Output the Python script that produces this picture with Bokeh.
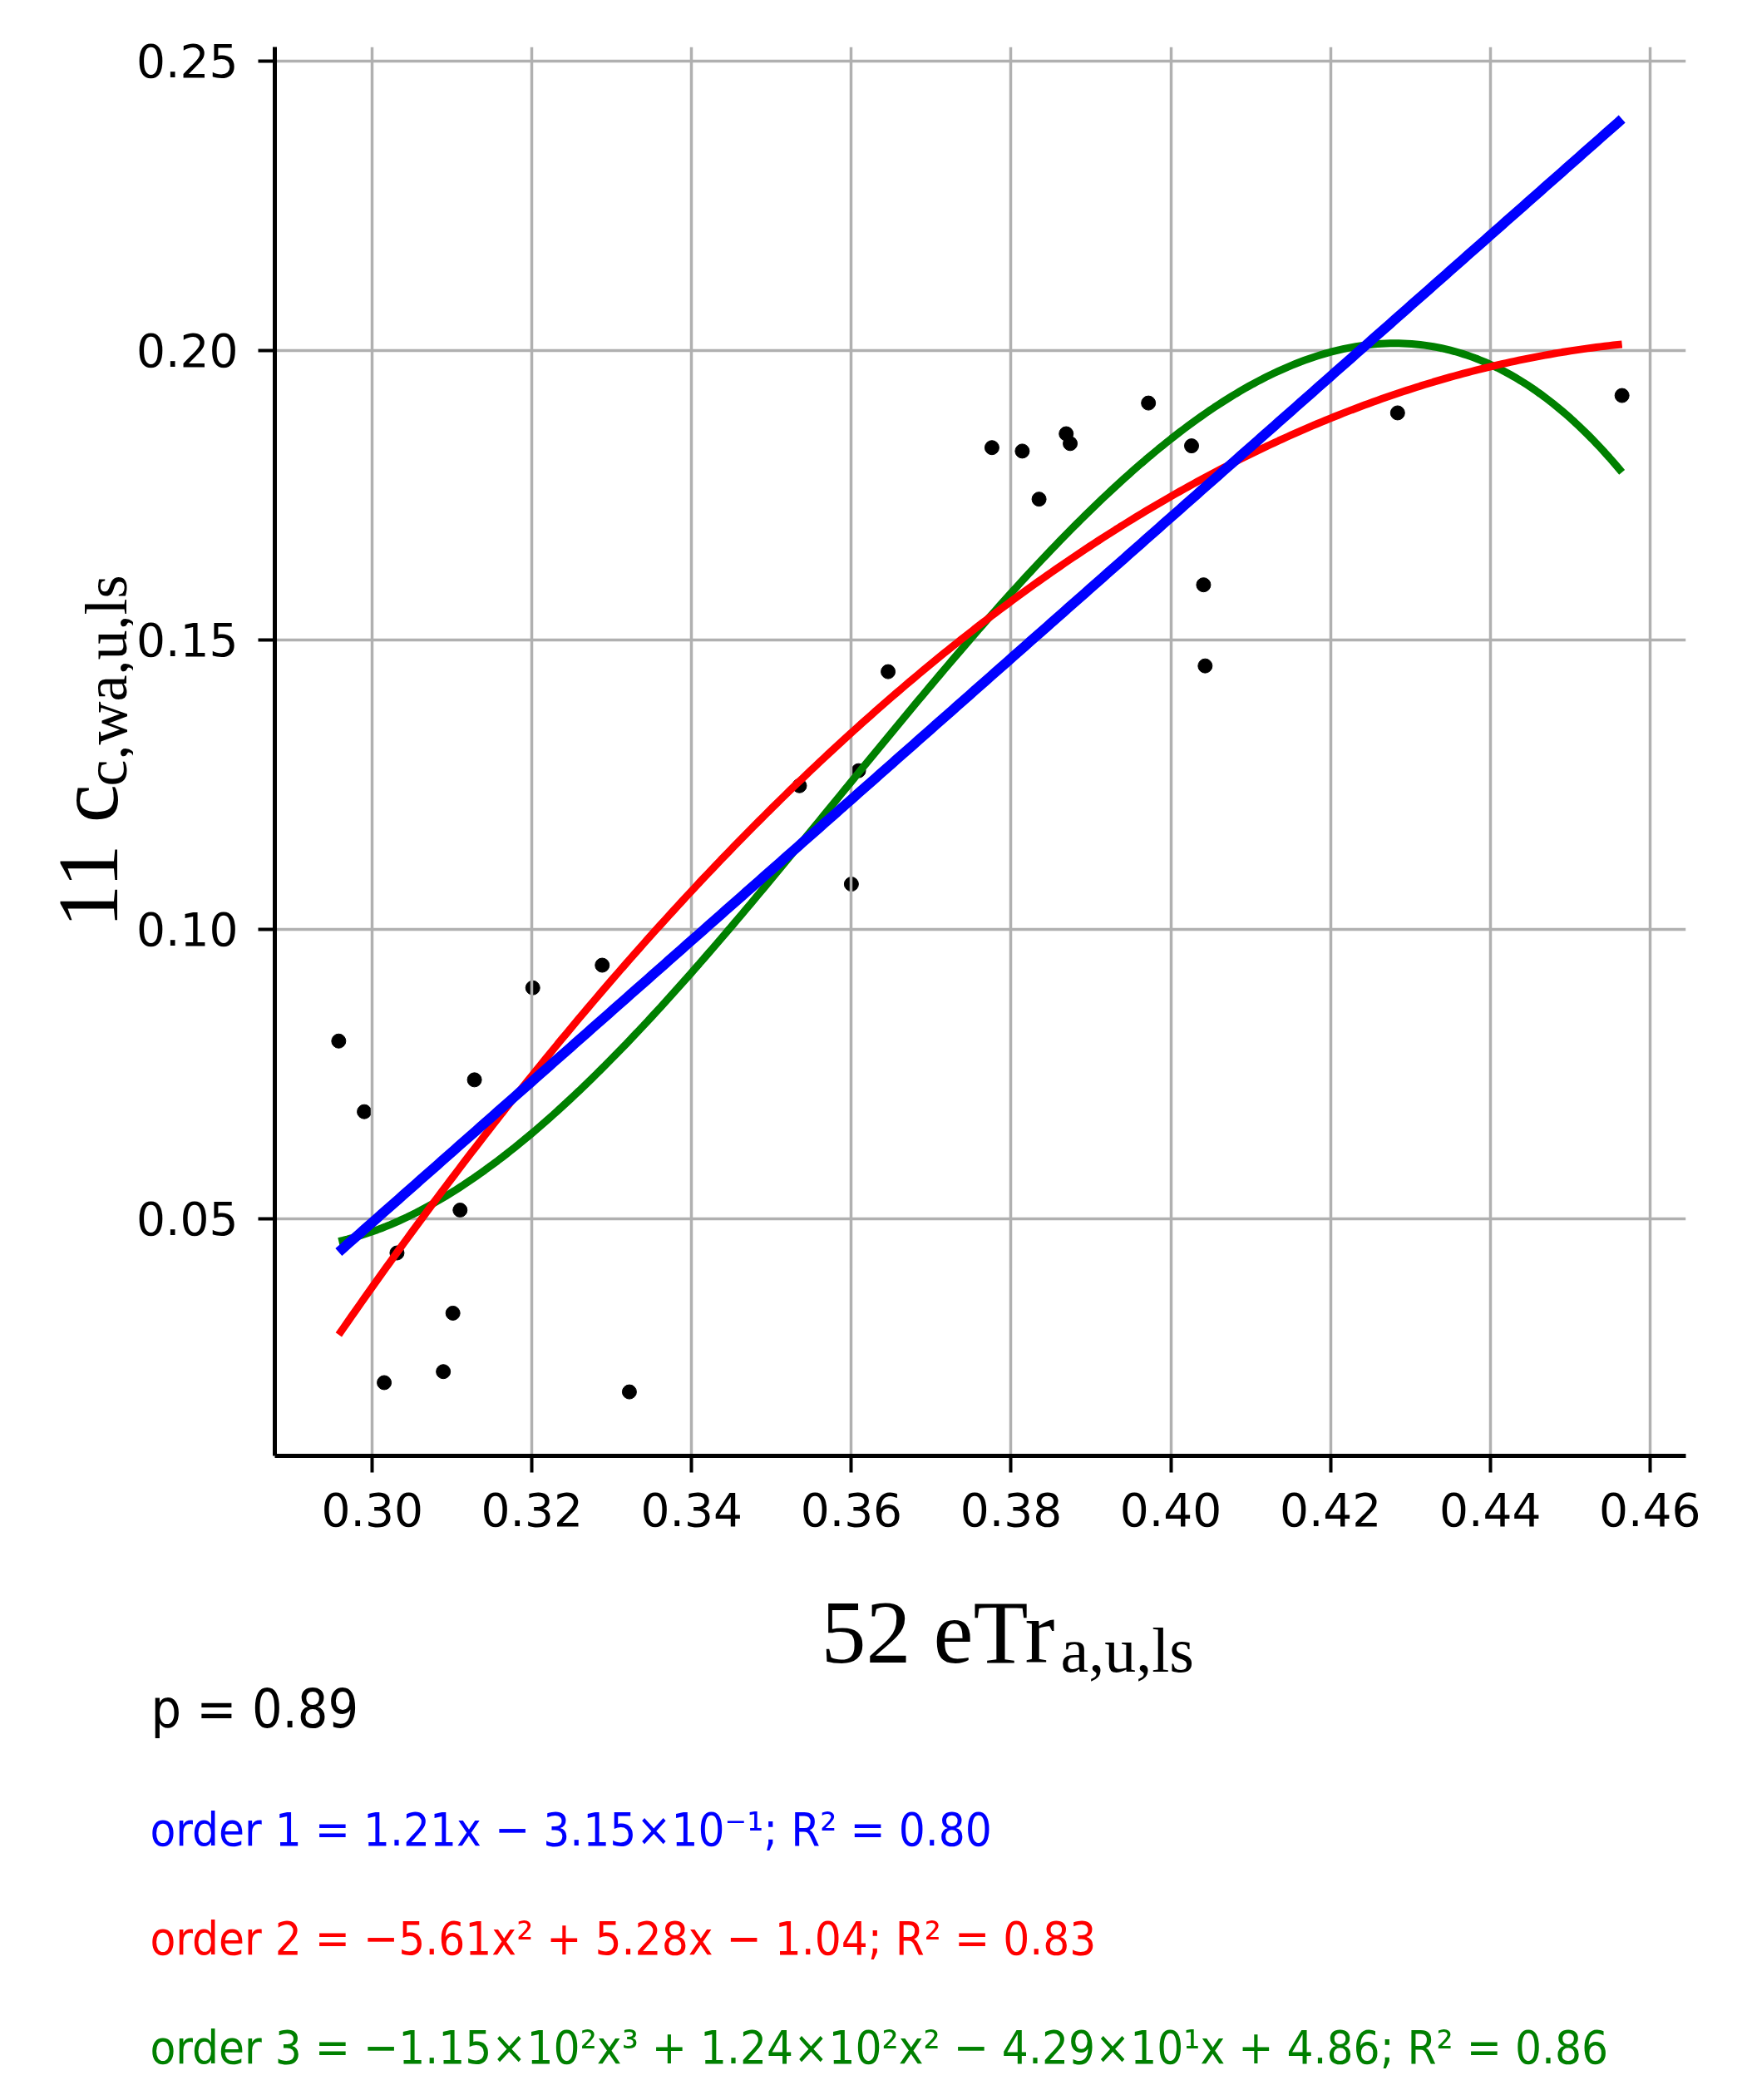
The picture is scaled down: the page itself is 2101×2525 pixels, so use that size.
import numpy as np
from bokeh.plotting import figure
from bokeh.layouts import row, column
from bokeh.models import Range1d, FixedTicker, NumeralTickFormatter
from bokeh.embed import file_html
from bokeh.resources import INLINE
from bokeh.core.properties import value

# ---- data ----
x_vals = [0.2958, 0.2990, 0.3015, 0.3031, 0.3089, 0.3101, 0.3110, 0.3128,
          0.3201, 0.3288, 0.3322, 0.3535, 0.3600, 0.3609, 0.3646, 0.3776,
          0.3814, 0.3835, 0.3869, 0.3874, 0.3972, 0.4026, 0.4041, 0.4043,
          0.4284, 0.4565]
y_vals = [0.0807, 0.0685, 0.0217, 0.0441, 0.0236, 0.0337, 0.0515, 0.0740,
          0.0899, 0.0938, 0.0201, 0.1248, 0.1078, 0.1274, 0.1445, 0.1832,
          0.1826, 0.1743, 0.1856, 0.1839, 0.1909, 0.1835, 0.1595, 0.1455,
          0.1892, 0.1922]

x_ticks = [0.30, 0.32, 0.34, 0.36, 0.38, 0.40, 0.42, 0.44, 0.46]
y_ticks = [0.05, 0.10, 0.15, 0.20, 0.25]

fit_orders = [3, 2, 1]
fit_colors = {1: "#0000ff", 2: "#ff0000", 3: "#008000"}
fit_widths = {1: 12, 2: 9, 3: 9}

x_label_main = "52 eTr"
x_label_sub = "a,u,ls"
y_label_main = "11 c"
y_label_sub = "c,wa,u,ls"

p_text = "p = 0.89"
eq_texts = [
    "order 1 = 1.21x \u2212 3.15\u00d710\u207b\u00b9; R\u00b2 = 0.80",
    "order 2 = \u22125.61x\u00b2 + 5.28x \u2212 1.04; R\u00b2 = 0.83",
    "order 3 = \u22121.15\u00d710\u00b2x\u00b3 + 1.24\u00d710\u00b2x\u00b2 \u2212 4.29\u00d710\u00b9x + 4.86; R\u00b2 = 0.86",
]
eq_colors = ["#0000ff", "#ff0000", "#008000"]

# ---- layout (reference pixel geometry, page coordinates) ----
PAGE_L, PAGE_T, PAGE_R, PAGE_B = 8, 8, 2093, 2517
FRAME_L, FRAME_T, FRAME_R, FRAME_B = 338, 64, 2035, 1758
SPLIT_X = 168          # left text strip | main plot
SPLIT_Y = 1872         # top row | bottom text block
X0, X1 = 0.2878, 0.4645
Y0, Y1 = 0.00905, 0.2524

fw, fh = FRAME_R - FRAME_L, FRAME_B - FRAME_T
b_top = FRAME_T - PAGE_T
b_bot = SPLIT_Y - FRAME_B
b_right = PAGE_R - FRAME_R

p = figure(frame_width=fw, frame_height=fh,
           x_range=Range1d(X0, X1), y_range=Range1d(Y0, Y1),
           output_backend="svg", toolbar_location=None,
           min_border_left=FRAME_L - SPLIT_X, min_border_top=b_top,
           min_border_right=b_right, min_border_bottom=b_bot)
p.outline_line_color = None
p.background_fill_color = "white"
p.border_fill_color = "white"

for ax in (p.xaxis, p.yaxis):
    ax.axis_line_color = "black"
    ax.axis_line_width = 5
    ax.major_tick_line_color = "black"
    ax.major_tick_line_width = 4
    ax.major_tick_out = 20
    ax.major_tick_in = 0
    ax.minor_tick_line_color = None
    ax.major_label_text_font = "DejaVu Sans"
    ax.major_label_text_font_size = "55px"
    ax.major_label_text_color = "black"
    ax.major_label_standoff = 24
    ax.axis_label_standoff = 0
    ax.formatter = NumeralTickFormatter(format="0.00")
p.xaxis.ticker = FixedTicker(ticks=x_ticks)
p.yaxis.ticker = FixedTicker(ticks=y_ticks)
p.grid.grid_line_color = "#b0b0b0"
p.grid.grid_line_width = 3.5
p.xgrid.ticker = FixedTicker(ticks=x_ticks)
p.ygrid.ticker = FixedTicker(ticks=y_ticks)

# scatter below grid (as in reference)
p.scatter(x_vals, y_vals, size=17, color="black", level="image")

xs = np.array(x_vals)
ys = np.array(y_vals)
xg = np.linspace(xs.min(), xs.max(), 300)
for k in fit_orders:
    coef = np.polyfit(xs, ys, k)
    p.line(xg, np.polyval(coef, xg), line_color=fit_colors[k],
           line_width=fit_widths[k])


def text_canvas(left, top, right, bottom, bt=0, bb=0, br=0):
    """Blank figure; its frame spans page [left, right-br] x [top+bt, bottom-bb]."""
    w, h = right - left, bottom - top
    f = figure(frame_width=w - br, frame_height=h - bt - bb,
               x_range=Range1d(0, w - br), y_range=Range1d(0, h - bt - bb),
               x_axis_type=None, y_axis_type=None, output_backend="svg",
               toolbar_location=None, min_border_left=0, min_border_right=br,
               min_border_top=bt, min_border_bottom=bb)
    f.outline_line_color = None
    f.background_fill_color = "white"
    f.border_fill_color = "white"
    f.grid.visible = False
    f_left, f_bottom = left, bottom - bb

    def put(text, X, Y, size, font, color="black", angle=0.0):
        f.text(x=[X - f_left], y=[f_bottom - Y], text=[text],
               text_font=value(font), text_font_size=value(f"{size}px"),
               text_color=color, text_align="left",
               text_baseline="alphabetic", angle=angle)
    return f, put


SERIF = "Liberation Serif"
SANS = "DejaVu Sans Condensed, Roboto"

left_fig, put_l = text_canvas(PAGE_L, PAGE_T, SPLIT_X, SPLIT_Y, bt=b_top, bb=b_bot)
put_l(y_label_main, 113, 1123, 104, SERIF, angle=np.pi / 2)
put_l(y_label_sub, 135, 953, 72, SERIF, angle=np.pi / 2)

bot_fig, put_b = text_canvas(PAGE_L, SPLIT_Y, PAGE_R, PAGE_B, br=b_right)
put_b(x_label_main, 995, 1970, 108, SERIF)
put_b(x_label_sub, 1283, 1991, 76, SERIF)
put_b(p_text, 189, 2062, 64, SANS, "black")
for t, c, b in zip(eq_texts, eq_colors, [2207, 2338, 2469]):
    put_b(t, 188, b, 56, SANS, c)

layout = column(row(left_fig, p, spacing=0), bot_fig, spacing=0)
open("out.html", "w").write(file_html(layout, INLINE))
